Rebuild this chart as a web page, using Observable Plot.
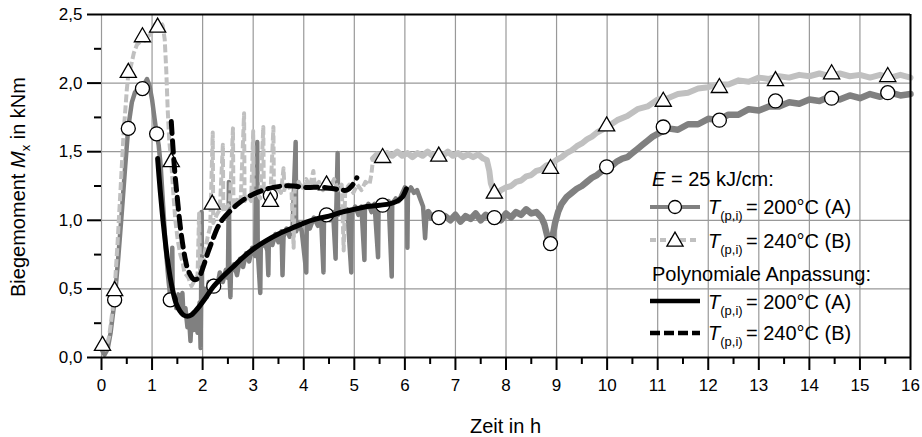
<!DOCTYPE html>
<html><head><meta charset="utf-8">
<script src="https://cdn.jsdelivr.net/npm/d3@7"></script>
<script src="https://cdn.jsdelivr.net/npm/@observablehq/plot@0.6"></script>
<style>
body{margin:0;background:#fff;}
#chart svg{display:block;}
</style>
</head><body><div id="chart"></div>
<script>
// ---- Data ----
const xTicks = [0,1,2,3,4,5,6,7,8,9,10,11,12,13,14,15,16];
const xMinorTicks = [0.5,1.5,2.5,3.5,4.5,5.5,6.5,7.5,8.5,9.5,10.5,11.5,12.5,13.5,14.5,15.5];
const yTicks = [0,0.5,1,1.5,2,2.5];
const yMinorTicks = [0.25,0.75,1.25,1.75,2.25];

// Series A: T(p,i) = 200°C (measured)
const aTime = [0.00,0.06,0.12,0.18,0.26,0.33,0.40,0.47,0.53,0.60,0.66,0.72,0.78,0.84,0.90,0.95,1.00,1.05,1.09,1.13,1.17,1.22,1.27,1.32,1.36,1.39,1.40,1.41,1.45,1.48,1.52,1.55,1.58,1.60,1.62,1.66,1.70,1.73,1.76,1.78,1.82,1.86,1.90,1.94,1.96,1.97,1.98,1.99,2.04,2.08,2.12,2.16,2.22,2.28,2.34,2.40,2.46,2.50,2.52,2.53,2.55,2.56,2.62,2.68,2.74,2.80,2.86,2.92,2.98,3.04,3.08,3.09,3.14,3.15,3.22,3.28,3.30,3.31,3.38,3.44,3.50,3.56,3.58,3.60,3.66,3.72,3.78,3.84,3.85,3.90,3.96,4.05,4.06,4.12,4.20,4.28,4.34,4.39,4.40,4.46,4.52,4.58,4.63,4.64,4.67,4.68,4.74,4.80,4.86,4.94,4.95,5.02,5.08,5.14,5.20,5.21,5.28,5.34,5.40,5.47,5.48,5.55,5.62,5.68,5.74,5.75,5.82,5.88,5.95,6.00,6.04,6.05,6.06,6.12,6.18,6.24,6.30,6.36,6.40,6.42,6.46,6.52,6.60,6.70,6.80,6.90,7.00,7.10,7.20,7.30,7.40,7.50,7.60,7.70,7.80,7.90,8.00,8.10,8.20,8.30,8.40,8.50,8.60,8.70,8.76,8.82,8.88,8.92,8.97,9.03,9.10,9.20,9.30,9.40,9.50,9.60,9.70,9.80,9.90,10.00,10.10,10.20,10.30,10.40,10.50,10.60,10.70,10.80,10.90,11.00,11.20,11.40,11.60,11.80,12.00,12.20,12.40,12.60,12.80,13.00,13.20,13.40,13.60,13.80,14.00,14.20,14.40,14.60,14.80,15.00,15.20,15.40,15.60,15.80,16.00];
const aMoment = [0.06,0.02,0.06,0.18,0.42,0.72,1.05,1.40,1.68,1.86,1.93,1.96,1.95,1.99,2.03,1.98,1.88,1.74,1.63,1.55,1.40,1.10,0.80,0.58,0.44,0.42,0.80,0.40,0.44,0.36,0.46,0.34,0.42,0.47,0.32,0.36,0.22,0.30,0.12,0.28,0.20,0.33,0.18,0.40,0.07,0.45,1.06,0.42,0.50,0.44,0.55,0.48,0.56,0.50,0.62,0.55,0.64,0.58,1.28,0.60,0.44,0.62,0.68,0.60,0.72,0.66,0.76,0.70,0.80,0.74,1.57,0.78,0.47,0.80,0.84,0.78,0.60,0.86,0.82,0.90,0.84,0.92,0.60,0.88,0.94,0.88,0.96,1.57,0.92,0.98,0.92,0.62,0.98,0.94,1.02,0.96,1.04,0.62,1.00,1.06,1.00,1.06,0.72,1.02,1.49,1.04,1.08,1.02,1.08,0.62,1.06,1.10,1.04,1.10,0.71,1.08,1.12,1.06,1.12,0.73,1.10,1.14,1.08,1.14,0.59,1.12,1.16,1.14,1.20,1.24,1.18,0.80,1.20,1.24,1.20,1.22,1.16,1.10,0.87,1.00,1.06,1.02,1.04,0.99,1.03,1.00,1.04,0.99,1.03,1.01,1.05,1.00,1.04,1.01,1.03,1.00,1.05,1.02,1.06,1.04,1.08,1.05,1.06,1.02,0.97,0.88,0.80,0.88,0.98,1.06,1.12,1.17,1.20,1.23,1.25,1.28,1.31,1.33,1.36,1.39,1.40,1.43,1.45,1.46,1.49,1.52,1.55,1.58,1.61,1.63,1.67,1.66,1.70,1.70,1.74,1.73,1.77,1.77,1.81,1.80,1.83,1.83,1.86,1.85,1.88,1.87,1.90,1.88,1.91,1.89,1.92,1.90,1.93,1.91,1.92];

// Series B: T(p,i) = 240°C (measured)
const bTime = [0.00,0.08,0.15,0.22,0.26,0.32,0.38,0.44,0.50,0.53,0.58,0.64,0.70,0.76,0.81,0.86,0.92,0.98,1.04,1.10,1.16,1.21,1.25,1.28,1.31,1.34,1.38,1.42,1.46,1.51,1.56,1.60,1.64,1.72,1.78,1.84,1.90,1.93,1.95,2.00,2.05,2.10,2.15,2.20,2.21,2.28,2.34,2.40,2.41,2.48,2.54,2.60,2.61,2.68,2.75,2.82,2.83,2.90,2.96,3.00,3.01,3.08,3.14,3.20,3.21,3.28,3.34,3.40,3.41,3.48,3.55,3.60,3.62,3.70,3.76,3.80,3.82,3.90,3.98,4.05,4.12,4.19,4.22,4.30,4.38,4.45,4.52,4.60,4.68,4.75,4.79,4.82,4.90,4.98,5.06,5.14,5.22,5.30,5.34,5.37,5.45,5.55,5.65,5.75,5.85,5.95,6.05,6.15,6.25,6.35,6.45,6.55,6.65,6.75,6.85,6.95,7.05,7.15,7.25,7.35,7.45,7.55,7.62,7.67,7.70,7.75,7.82,7.90,8.00,8.10,8.20,8.30,8.40,8.50,8.60,8.70,8.80,8.90,9.00,9.10,9.20,9.30,9.40,9.50,9.60,9.70,9.80,9.90,10.00,10.20,10.40,10.60,10.80,11.00,11.20,11.40,11.60,11.80,12.00,12.20,12.40,12.60,12.80,13.00,13.20,13.40,13.60,13.80,14.00,14.20,14.40,14.60,14.80,15.00,15.20,15.40,15.60,15.80,16.00];
const bMoment = [0.08,0.06,0.15,0.35,0.50,0.85,1.25,1.65,1.95,2.06,2.12,2.22,2.28,2.30,2.33,2.31,2.34,2.36,2.42,2.44,2.45,2.42,2.32,2.10,1.80,1.58,1.42,1.20,1.00,0.85,0.75,0.70,0.62,0.58,0.52,0.56,0.60,1.05,0.62,0.66,0.78,0.88,0.95,1.64,0.98,1.04,1.08,1.55,1.06,1.10,1.12,1.67,1.10,1.15,1.12,1.78,1.14,1.18,1.14,1.65,1.18,1.20,1.16,1.68,1.20,1.22,1.18,1.68,1.20,1.24,1.20,1.38,1.22,1.26,1.20,0.80,1.22,1.28,1.22,1.30,1.24,1.36,1.24,1.28,1.22,1.28,1.24,1.30,1.22,1.26,0.78,1.22,1.26,1.20,1.26,1.22,1.28,1.26,1.34,1.45,1.48,1.46,1.49,1.47,1.50,1.47,1.49,1.46,1.49,1.47,1.50,1.47,1.49,1.47,1.50,1.47,1.49,1.46,1.48,1.46,1.48,1.45,1.44,1.36,1.27,1.22,1.19,1.22,1.24,1.25,1.28,1.29,1.32,1.33,1.36,1.37,1.40,1.41,1.44,1.46,1.49,1.51,1.54,1.56,1.59,1.61,1.64,1.66,1.68,1.73,1.76,1.81,1.83,1.88,1.89,1.92,1.93,1.96,1.97,1.99,1.99,2.02,2.01,2.04,2.03,2.05,2.04,2.06,2.05,2.07,2.05,2.07,2.05,2.06,2.04,2.06,2.04,2.06,2.04];

// Markers
const circleTime = [0.26,0.53,0.81,1.09,1.36,2.22,3.34,4.45,5.56,6.67,7.77,8.88,9.99,11.11,12.22,13.33,14.44,15.55];
const circleMoment = [0.42,1.67,1.96,1.63,0.42,0.52,1.18,1.04,1.11,1.02,1.02,0.83,1.39,1.68,1.73,1.87,1.89,1.93];
const triTime = [0.02,0.26,0.53,0.81,1.11,1.38,2.19,3.34,4.45,5.56,6.67,7.77,8.88,9.99,11.11,12.22,13.33,14.44,15.55];
const triMoment = [0.10,0.50,2.09,2.35,2.42,1.44,1.13,1.15,1.27,1.47,1.48,1.21,1.39,1.70,1.88,1.98,2.03,2.08,2.06];

// Polynomial fits
const polyATime = [1.11,1.16,1.21,1.26,1.31,1.36,1.42,1.48,1.55,1.62,1.70,1.78,1.86,1.95,2.05,2.20,2.40,2.60,2.80,3.00,3.25,3.50,3.75,4.00,4.25,4.50,4.75,5.00,5.25,5.50,5.70,5.85,5.95,6.03];
const polyAMoment = [1.45,1.22,1.02,0.85,0.70,0.58,0.47,0.39,0.34,0.31,0.30,0.31,0.34,0.38,0.43,0.51,0.59,0.66,0.73,0.79,0.85,0.90,0.94,0.98,1.01,1.03,1.06,1.08,1.10,1.11,1.12,1.14,1.17,1.23];
const polyBTime = [1.38,1.41,1.45,1.50,1.55,1.60,1.65,1.70,1.76,1.82,1.88,1.95,2.02,2.10,2.20,2.30,2.40,2.55,2.70,2.85,3.00,3.20,3.40,3.60,3.80,4.00,4.20,4.40,4.60,4.75,4.85,4.95,5.05];
const polyBMoment = [1.72,1.55,1.35,1.16,0.98,0.84,0.73,0.65,0.60,0.57,0.57,0.60,0.67,0.76,0.86,0.95,1.01,1.07,1.12,1.16,1.19,1.22,1.24,1.25,1.25,1.24,1.24,1.24,1.23,1.22,1.22,1.25,1.31];

// ---- Build tables ----
const zip = (t, m) => t.map((v, i) => ({t: v, m: m[i]}));
const A = zip(aTime, aMoment);
const B = zip(bTime, bMoment);
const cA = zip(circleTime, circleMoment);
const cB = zip(triTime, triMoment);
const pA = zip(polyATime, polyAMoment);
const pB = zip(polyBTime, polyBMoment);

const DARK = "#808080", LIGHT = "#c0c0c0", GRID = "#999999";
const FONT = "'Liberation Sans', Arial, Helvetica, sans-serif";
const fmt = d => d.toFixed(1).replace(".", ",");
const xDomain = [0, 16], yDomain = [0, 2.5];

const plot = Plot.plot({
  width: 922, height: 437,
  marginLeft: 101, marginRight: 12, marginTop: 14, marginBottom: 80,
  x: {domain: xDomain},
  y: {domain: yDomain},
  style: {fontFamily: FONT, fontSize: "17px", color: "black", background: "white"},
  marks: [
    Plot.gridX(xTicks, {stroke: GRID, strokeOpacity: 1, strokeWidth: 1.2}),
    Plot.gridY(yTicks, {stroke: GRID, strokeOpacity: 1, strokeWidth: 1.2}),
    Plot.line(A.filter(d => d.t <= 6.46), {x: "t", y: "m", stroke: DARK, strokeWidth: 4.5}),
    Plot.line(A.filter(d => d.t >= 6.46), {x: "t", y: "m", stroke: DARK, strokeWidth: 6.5}),
    Plot.line(B.filter(d => d.t <= 5.37), {x: "t", y: "m", stroke: LIGHT, strokeWidth: 4, strokeDasharray: "8,3", strokeLinecap: "butt"}),
    Plot.line(B.filter(d => d.t >= 5.37), {x: "t", y: "m", stroke: LIGHT, strokeWidth: 6}),
    Plot.dot(cA, {x: "t", y: "m", r: 7, fill: "white", stroke: "black", strokeWidth: 1.3}),
    Plot.dot(cB, {x: "t", y: "m", r: 6, symbol: "triangle", dy: 2, fill: "white", stroke: "black", strokeWidth: 1.3}),
    Plot.line(pA, {x: "t", y: "m", stroke: "black", strokeWidth: 5, curve: "catmull-rom"}),
    Plot.line(pB, {x: "t", y: "m", stroke: "black", strokeWidth: 5, strokeDasharray: "12,7", curve: "catmull-rom"}),
    Plot.ruleY([yDomain[1]], {stroke: "black", strokeWidth: 2}),
    Plot.ruleX([xDomain[1]], {stroke: "black", strokeWidth: 2}),
    Plot.ruleY([yDomain[0]], {stroke: "black", strokeWidth: 2}),
    Plot.axisY(yTicks, {tickSize: 14, tickPadding: 5, tickFormat: fmt, label: null, strokeWidth: 2, fontSize: 17}),
    Plot.axisY(yMinorTicks, {tickSize: 7, tickFormat: () => "", label: null, strokeWidth: 2}),
    Plot.axisX(xTicks, {tickSize: 13, tickPadding: 8, label: null, strokeWidth: 2, fontSize: 17}),
    Plot.axisX(xMinorTicks, {tickSize: 7, tickFormat: () => "", label: null, strokeWidth: 2})
  ]
});

document.getElementById("chart").appendChild(plot);

// ---- Axis titles and legend (text kept as real text) ----
const svg = d3.select(plot);
const ann = svg.append("g").attr("font-family", FONT).attr("fill", "black");

ann.append("text").attr("x", 505.5).attr("y", 433).attr("text-anchor", "middle")
  .attr("font-size", 20).text("Zeit in h");

const yt = ann.append("text").attr("transform", "translate(25,187) rotate(-90)")
  .attr("text-anchor", "middle").attr("font-size", 20);
yt.append("tspan").text("Biegemoment ");
yt.append("tspan").attr("font-style", "italic").text("M");
yt.append("tspan").attr("font-size", 13).attr("dy", 5).text("x");
yt.append("tspan").attr("dy", -5).text(" in kNm");

const lg = ann.append("g").attr("font-size", 20).attr("text-anchor", "start");
const head = lg.append("text").attr("x", 652).attr("y", 186).attr("text-anchor", "start");
head.append("tspan").attr("font-style", "italic").text("E");
head.append("tspan").text(" = 25 kJ/cm:");
lg.append("text").attr("x", 652).attr("y", 281).attr("text-anchor", "start").text("Polynomiale Anpassung:");

const rows = [
  {y: 214, ly: 207, label: "= 200°C (A)", stroke: DARK, dash: null, w: 4, sym: "circle"},
  {y: 248, ly: 240, label: "= 240°C (B)", stroke: LIGHT, dash: "6,4", w: 4, sym: "triangle"},
  {y: 309, ly: 301, label: "= 200°C (A)", stroke: "black", dash: null, w: 4.5, sym: null},
  {y: 340, ly: 333, label: "= 240°C (B)", stroke: "black", dash: "10,4", w: 4.5, sym: null}
];
for (const r of rows) {
  const ln = lg.append("line").attr("x1", 650).attr("x2", 700).attr("y1", r.ly).attr("y2", r.ly)
    .attr("stroke", r.stroke).attr("stroke-width", r.w);
  if (r.dash) ln.attr("stroke-dasharray", r.dash);
  if (r.sym === "circle") {
    lg.append("circle").attr("cx", 675).attr("cy", r.ly).attr("r", 6.5)
      .attr("fill", "white").attr("stroke", "black").attr("stroke-width", 1.3);
  } else if (r.sym === "triangle") {
    lg.append("path").attr("d", d3.symbol(d3.symbolTriangle, Math.PI * 36)())
      .attr("transform", `translate(675,${r.ly + 1.5})`)
      .attr("fill", "white").attr("stroke", "black").attr("stroke-width", 1.3);
  }
  const t = lg.append("text").attr("x", 708).attr("y", r.y).attr("text-anchor", "start");
  t.append("tspan").attr("font-style", "italic").text("T");
  t.append("tspan").attr("font-size", 13).attr("dy", 6).text("(p,i)");
  t.append("tspan").attr("x", 746).attr("dy", -6).text(r.label);
}
</script>
</body></html>
